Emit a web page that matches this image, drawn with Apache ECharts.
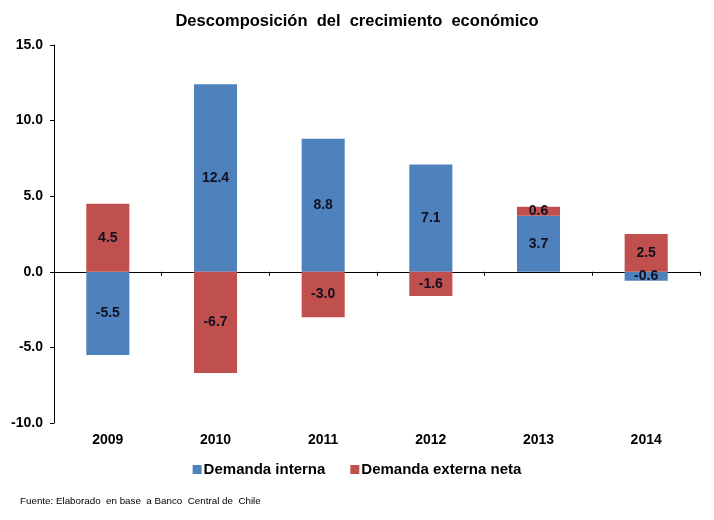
<!DOCTYPE html>
<html>
<head>
<meta charset="utf-8">
<script src="https://cdn.jsdelivr.net/npm/echarts@6/dist/echarts.min.js"></script>
<style>html,body{margin:0;padding:0;background:#fff;}#c{width:714px;height:520px;}</style>
</head>
<body>
<div id="c"></div>
<script>
var categories = ['2009', '2010', '2011', '2012', '2013', '2014'];
var demandaInterna = [-5.5, 12.4, 8.8, 7.1, 3.7, -0.6];
var demandaExterna = [4.5, -6.7, -3.0, -1.6, 0.6, 2.5];
var seriesNames = ['Demanda interna', 'Demanda externa neta'];
var yTicks = {min: -10, max: 15, interval: 5};

var chart = echarts.init(document.getElementById('c'));
var font = 'Liberation Sans, Arial, sans-serif';
var labelCfg = {
  show: true, position: 'inside', fontFamily: font, fontWeight: 'bold',
  fontSize: 14, color: '#111122',
  formatter: function (p) { return p.value.toFixed(1); }
};
chart.setOption({
  animation: false,
  title: [{
    text: 'Descomposición  del  crecimiento  económico',
    left: 'center', top: 8,
    textStyle: {fontFamily: font, fontWeight: 'bold', fontSize: 16.5, color: '#000'}
  }, {
    text: 'Fuente: Elaborado  en base  a Banco  Central de  Chile',
    left: 20, top: 496, padding: 0,
    textStyle: {fontFamily: font, fontWeight: 'normal', fontSize: 9.8, color: '#000'}
  }],
  legend: {
    data: seriesNames, top: 457, left: 'center',
    icon: 'rect', itemWidth: 9, itemHeight: 9, itemGap: 25,
    textStyle: {fontFamily: font, fontWeight: 'bold', fontSize: 15, color: '#000', padding: [0, 0, 0, -3]}
  },
  grid: {left: 54, right: 14, top: 45, bottom: 97, containLabel: false},
  xAxis: [{
    type: 'category', data: categories, position: 'bottom',
    axisLine: {show: false, onZero: false}, axisTick: {show: false},
    axisLabel: {fontFamily: font, fontWeight: 'bold', fontSize: 14, color: '#000', margin: 10}
  }, {
    type: 'category', data: categories, position: 'bottom',
    axisLine: {show: true, onZero: true, lineStyle: {color: '#000', width: 1}},
    axisTick: {show: true, length: 4, inside: false, lineStyle: {color: '#000'}},
    axisLabel: {show: false}
  }],
  yAxis: {
    type: 'value', min: yTicks.min, max: yTicks.max, interval: yTicks.interval,
    axisLine: {show: true, lineStyle: {color: '#000'}},
    axisTick: {show: true, length: 4, lineStyle: {color: '#000'}},
    splitLine: {show: false},
    axisLabel: {fontFamily: font, fontWeight: 'bold', fontSize: 14, color: '#000', margin: 11,
      formatter: function (v) { return v.toFixed(1); }}
  },
  series: [{
    name: seriesNames[0], type: 'bar', stack: 'total', data: demandaInterna,
    barWidth: '40%', itemStyle: {color: '#4F81BD'}, label: labelCfg
  }, {
    name: seriesNames[1], type: 'bar', stack: 'total', data: demandaExterna,
    barWidth: '40%', itemStyle: {color: '#C0504D'}, label: labelCfg
  }]
});
</script>
</body>
</html>
